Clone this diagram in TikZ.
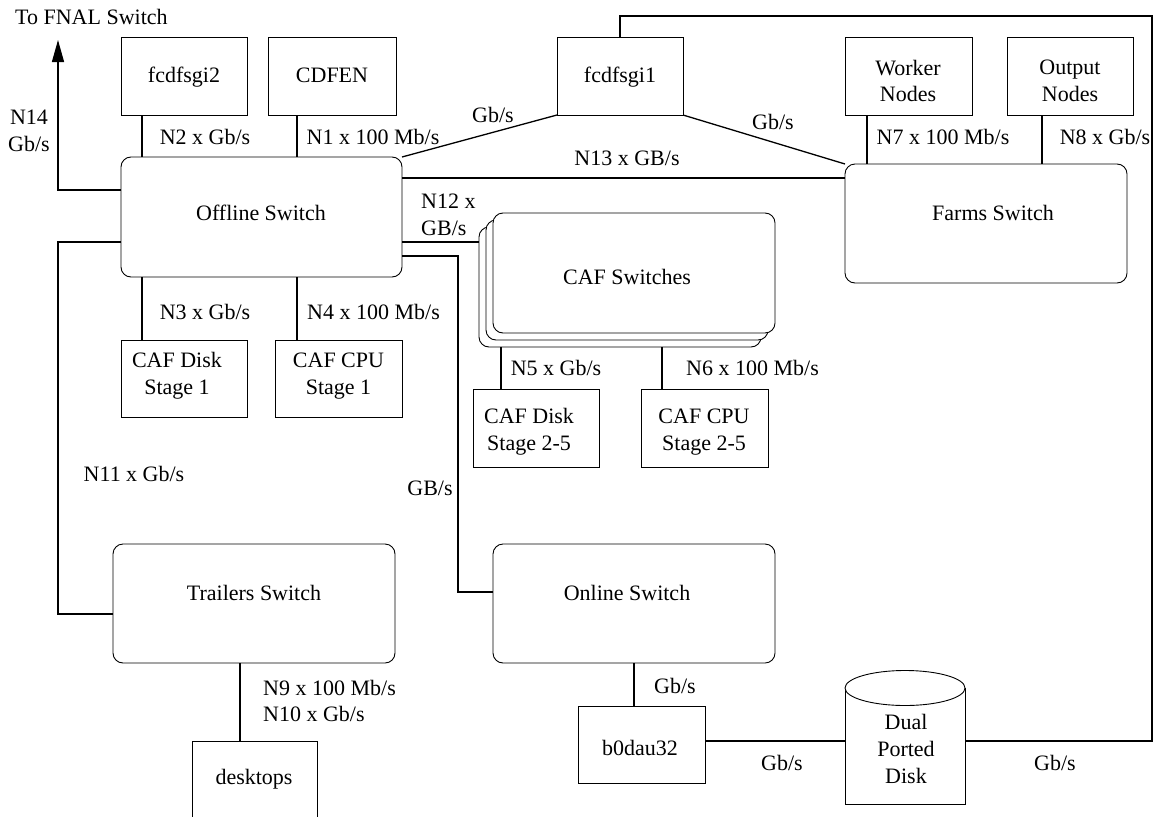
\documentclass[tikz,border=0pt]{standalone}
\usepackage{fontspec}
\setmainfont{Liberation Serif}
\usetikzlibrary{arrows.meta}
\begin{document}
\begin{tikzpicture}[x=1pt,y=-1pt,
  box/.style={draw, rectangle, inner sep=0pt, outer sep=0pt, line width=0.9pt, fill=white},
  sw/.style={box, rounded corners=10pt},
  ml/.style={font=\fontsize{22}{26.6}\selectfont, inner sep=0pt, align=center},
  lbl/.style={ml, text height=19.6pt, text depth=5pt},
  wire/.style={line width=1.3pt}]
\clip (0,0) rectangle (1158,816);

% ---------- boxes ----------
\node[box, minimum width=126pt, minimum height=78pt] (fcdfsgi2) at (184,76) {};
\node[box, minimum width=128pt, minimum height=78pt] (cdfen) at (332,76) {};
\node[box, minimum width=126pt, minimum height=78pt] (fcdfsgi1) at (620,76) {};
\node[box, minimum width=127pt, minimum height=78pt] (worker) at (908.5,76) {};
\node[box, minimum width=126pt, minimum height=78pt] (output) at (1070,76) {};
\node[sw, minimum width=281pt, minimum height=120pt] (offline) at (261.5,217) {};
\node[sw, minimum width=282pt, minimum height=119pt] (farms) at (986,223.5) {};
\node[sw, minimum width=282pt, minimum height=120pt] (cafback) at (620,287) {};
\node[sw, minimum width=282pt, minimum height=120pt] (cafmid) at (627,280) {};
\node[sw, minimum width=282pt, minimum height=120pt] (caffront) at (634,273) {};
\node[box, minimum width=126pt, minimum height=77pt] (cafd1) at (184,378.5) {};
\node[box, minimum width=127pt, minimum height=77pt] (cafc1) at (338.5,378.5) {};
\node[box, minimum width=126pt, minimum height=78pt] (cafd2) at (536,428) {};
\node[box, minimum width=127pt, minimum height=78pt] (cafc2) at (704.5,428) {};
\node[sw, minimum width=282pt, minimum height=119pt] (trailers) at (254,603.5) {};
\node[sw, minimum width=282pt, minimum height=119pt] (online) at (634,603.5) {};
\node[box, minimum width=125pt, minimum height=89pt] (desktops) at (254.5,785.5) {};
\node[box, minimum width=127pt, minimum height=77pt] (b0dau32) at (641.5,744.5) {};
% dual ported disk (cylinder with flat bottom)
\node[rectangle, inner sep=0pt, outer sep=0pt, minimum width=120pt, minimum height=116pt] (disk) at (905,746) {};
\draw[line width=0.9pt] (disk.north west) -- (disk.south west) -- (disk.south east) -- (disk.north east);
\draw[line width=0.9pt, fill=white] (disk.north) ellipse [x radius=60pt, y radius=17.5pt];

% ---------- box texts ----------
\node[lbl] (t-fcdfsgi2) at (184,75) {fcdfsgi2};
\node[lbl] (t-cdfen) at (332,75) {CDFEN};
\node[lbl] (t-fcdfsgi1) at (620,75) {fcdfsgi1};
\node[ml] (t-worker) at (908,81) {Worker\\Nodes};
\node[ml] (t-output) at (1070,81) {Output\\Nodes};
\node[lbl] (t-offline) at (261,213) {Offline Switch};
\node[lbl] (t-farms) at (993,213) {Farms Switch};
\node[lbl] (t-caf) at (627,277) {CAF Switches};
\node[ml] (t-cafd1) at (177,376) {CAF Disk\\Stage 1};
\node[ml] (t-cafc1) at (338.5,376) {CAF CPU\\Stage 1};
\node[ml] (t-cafd2) at (529,432) {CAF Disk\\Stage 2-5};
\node[ml] (t-cafc2) at (704,432) {CAF CPU\\Stage 2-5};
\node[lbl] (t-trailers) at (254,593) {Trailers Switch};
\node[lbl] (t-online) at (627,593) {Online Switch};
\node[lbl] (t-desktops) at (254,777) {desktops};
\node[lbl] (t-b0dau32) at (640,748) {b0dau32};
\node[ml] (t-disk) at (906,749) {Dual\\Ported\\Disk};

% ---------- connectors ----------
\coordinate (fnal) at (58,40);
\coordinate (topright) at (1152,16);
\draw[wire, -{Triangle[length=22pt,width=12pt]}] ([yshift=27pt]offline.west) -| (fnal);
\draw[wire] ([yshift=-25pt]offline.west) -- ++(-63,0) |- ([yshift=-10.5pt]trailers.west);
\draw[wire] ([xshift=-42pt]fcdfsgi2.south) -- ([xshift=-42pt]fcdfsgi2.south |- offline.north);
\draw[wire] ([xshift=-35pt]cdfen.south) -- ([xshift=-35pt]cdfen.south |- offline.north);
\draw[wire] (fcdfsgi1.south west) -- (offline.north east);
\draw[wire] (fcdfsgi1.south east) -- (farms.north west);
\draw[wire] (fcdfsgi1.north) |- (topright) |- ([yshift=5pt]disk.east);
\draw[wire] ([yshift=39pt]offline.east) -- ([yshift=39pt]offline.east -| farms.west);
\draw[wire] ([yshift=-25pt]offline.east) -- ([yshift=-25pt]offline.east -| cafback.west);
\draw[wire] ([yshift=-39pt]offline.east) -- ++(56,0) |- ([yshift=11.5pt]online.west);
\draw[wire] ([xshift=-41.5pt]worker.south) -- ([xshift=-41.5pt]worker.south |- farms.north);
\draw[wire] ([xshift=-28pt]output.south) -- ([xshift=-28pt]output.south |- farms.north);
\draw[wire] ([xshift=-42pt]cafd1.north) -- ([xshift=-42pt]cafd1.north |- offline.south);
\draw[wire] ([xshift=-41.5pt]cafc1.north) -- ([xshift=-41.5pt]cafc1.north |- offline.south);
\draw[wire] ([xshift=-35pt]cafd2.north) -- ([xshift=-35pt]cafd2.north |- cafback.south);
\draw[wire] ([xshift=-42.5pt]cafc2.north) -- ([xshift=-42.5pt]cafc2.north |- cafback.south);
\draw[wire] ([xshift=-14.5pt]desktops.north) -- ([xshift=-14.5pt]desktops.north |- trailers.south);
\draw[wire] ([xshift=-7.5pt]b0dau32.north) -- ([xshift=-7.5pt]b0dau32.north |- online.south);
\draw[wire] ([yshift=3.5pt]b0dau32.east) -- ([yshift=3.5pt]b0dau32.east -| disk.west);

% ---------- connector labels ----------
\node[ml] (l-n14) at (29,131) {N14\\Gb/s};
\node[lbl, anchor=west] (l-fnal) at (15,17) {To FNAL Switch};
\node[lbl] (l-n2) at (205,137) {N2 x Gb/s};
\node[lbl] (l-n1) at (373,137) {N1 x 100 Mb/s};
\node[lbl] (l-g1) at (493,115) {Gb/s};
\node[lbl] (l-g2) at (773,122) {Gb/s};
\node[lbl] (l-n13) at (627,158) {N13 x GB/s};
\node[lbl] (l-n7) at (943,137) {N7 x 100 Mb/s};
\node[lbl] (l-n8) at (1105,137) {N8 x Gb/s};
\node[ml, align=left, anchor=west] (l-n12) at (421,215) {N12 x\\GB/s};
\node[lbl] (l-n3) at (205,312) {N3 x Gb/s};
\node[lbl] (l-n4) at (373.5,312) {N4 x 100 Mb/s};
\node[lbl] (l-n5) at (556,368) {N5 x Gb/s};
\node[lbl, anchor=west] (l-n6) at (686,368) {N6 x 100 Mb/s};
\node[lbl] (l-n11) at (134,474) {N11 x Gb/s};
\node[lbl] (l-gbs) at (430,488) {GB/s};
\node[ml, align=left, anchor=west] (l-n9) at (263,701) {N9 x 100 Mb/s\\N10 x Gb/s};
\node[lbl] (l-g3) at (675,686) {Gb/s};
\node[lbl] (l-g4) at (782,763) {Gb/s};
\node[lbl] (l-g5) at (1055,763) {Gb/s};
\end{tikzpicture}
\end{document}
